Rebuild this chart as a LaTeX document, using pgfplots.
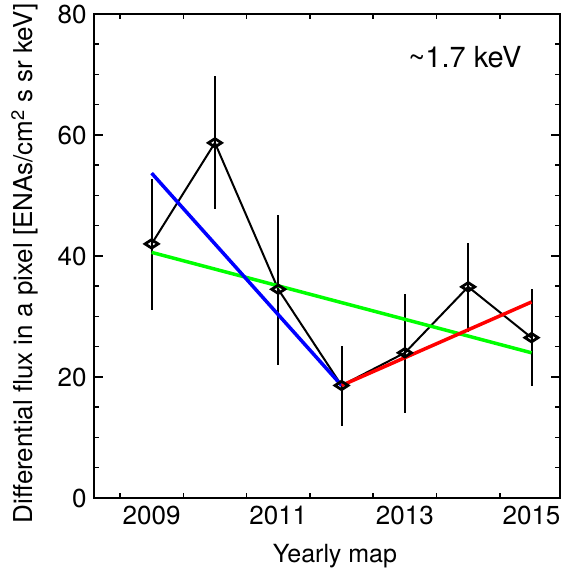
\documentclass[border=0pt]{standalone}
\usepackage{fontspec}
\setmainfont{TeX Gyre Heros}
\usepackage{pgfplots}
\pgfplotsset{compat=1.18}
\usepackage{pgfplotstable}

% yearly flux values with asymmetric uncertainties
\pgfplotstableread{
year  flux  eplus  eminus
2009  42.0  10.8   10.9
2010  58.7  11.1   11.0
2011  34.5  12.3   12.5
2012  18.6   6.5    6.7
2013  24.0   9.8   10.0
2014  34.9   7.2    7.4
2015  26.5   8.0    8.0
}\fluxdata

\begin{document}
\begin{tikzpicture}
\begin{axis}[
  name=ax,
  scale only axis,
  width=466bp, height=484bp,
  xmin=2008.09, xmax=2015.45,
  ymin=0, ymax=80,
  clip=false,
  axis line style={line width=2bp},
  every tick/.style={line width=1.5bp, black},
  xtick={2009,2011,2013,2015},
  xticklabels={2009,2011,2013,2015},
  major x tick style={draw=none},
  minor xtick={2008.5,2009.5,2010.5,2011.5,2012.5,2013.5,2014.5},
  ytick={0,20,40,60,80},
  minor y tick num=3,
  major tick length=9bp,
  minor tick length=5bp,
  tick align=inside,
  tick pos=both,
  ticklabel style={font=\fontsize{26bp}{30bp}\selectfont},
  /pgf/number format/assume math mode=true,
  /pgf/number format/1000 sep={},
  xticklabel style={yshift=-5bp},
  yticklabel style={xshift=-4bp},
]
% measured fluxes
\addplot[black, line width=2bp,
  mark=diamond, mark size=6bp,
  mark options={solid, line width=2.8bp, xscale=1.45, yscale=0.7},
  error bars/.cd, y dir=both, y explicit,
  error mark=none,
  error bar style={line width=2bp, black}]
  table[x=year, y=flux, y error plus=eplus, y error minus=eminus] {\fluxdata};
% linear trends
\addplot[green, line width=3.5bp] coordinates {(2009,40.6) (2015,24.0)};
\addplot[blue, line width=3.5bp] coordinates {(2009,53.7) (2012,18.6)};
\addplot[red, line width=3.5bp] coordinates {(2012,18.6) (2015,32.4)};
% labels
\node[anchor=base, font=\fontsize{29bp}{32bp}\selectfont]
  at ([shift={(371bp,-54bp)}]rel axis cs:0,1) {\textasciitilde 1.7 keV};
\node[anchor=base, font=\fontsize{25bp}{30bp}\selectfont]
  at ([shift={(8bp,-64bp)}]rel axis cs:0.5,0) {Yearly map};
\node[anchor=base, rotate=90, font=\fontsize{26bp}{30bp}\selectfont]
  at ([shift={(-61bp,-7.5bp)}]rel axis cs:0,0.5)
  {Differential flux in a pixel [ENAs/cm\textsuperscript{2} s sr keV]};
\end{axis}
\pgfresetboundingbox
\path[use as bounding box] ([shift={(-94bp,-70bp)}]ax.south west)
  rectangle ([shift={(1bp,14bp)}]ax.north east);
\end{tikzpicture}
\end{document}
